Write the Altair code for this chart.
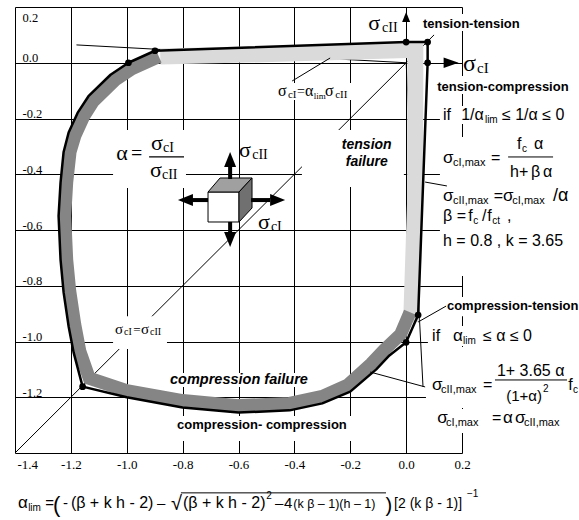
import altair as alt
import pandas as pd

# Biaxial failure envelope of concrete, stresses normalised by fc: (σcI/fc, σcII/fc)
envelope_x = [-0.899, 0.0, 0.077, 0.077, 0.043, 0.0, -0.06, -0.107, -0.2, -0.3,
              -0.417, -0.6, -0.8, -1.0, -1.158, -1.19, -1.208, -1.226, -1.237,
              -1.244, -1.237, -1.226, -1.208, -1.176, -1.137, -1.058, -0.994, -0.899]
envelope_y = [0.043, 0.074, 0.074, 0.0, -0.905, -1.003, -1.05, -1.10, -1.18, -1.222,
              -1.247, -1.255, -1.237, -1.2, -1.162, -1.04, -0.946, -0.824, -0.706,
              -0.55, -0.43, -0.32, -0.25, -0.18, -0.12, -0.043, 0.0, 0.043]

# compression-failure band (dark) and tension-failure band (light)
comp_band_x = [-0.885, -0.982, -1.041, -1.12, -1.154, -1.185, -1.203, -1.215, -1.222,
               -1.215, -1.204, -1.186, -1.168, -1.134, -1.0, -0.8, -0.6, -0.417, -0.3,
               -0.21, -0.125, -0.078, -0.02, 0.014]
comp_band_y = [0.022, -0.022, -0.061, -0.138, -0.192, -0.26, -0.32, -0.43, -0.55,
               -0.706, -0.82, -0.94, -1.035, -1.132, -1.176, -1.212, -1.23, -1.222,
               -1.197, -1.157, -1.08, -1.03, -0.975, -0.895]
tens_band_x = [-0.88, -0.42, 0.033, 0.032, 0.018]
tens_band_y = [0.022, 0.033, 0.047, -0.5, -0.93]

# marked points on the envelope
node_x = [-0.899, -0.994, 0.0, 0.077, 0.077, 0.043, 0.0, -1.158]
node_y = [0.043, 0.0, 0.074, 0.074, 0.0, -0.905, -1.003, -1.162]

axis_ticks = [-1.4, -1.2, -1.0, -0.8, -0.6, -0.4, -0.2, 0.0, 0.2]

# equal-stress diagonal and the two α_lim rays: (x, y, x2, y2)
ref_lines = [(-1.4, -1.4, 0.1, 0.1),
             (-1.18, 0.064, 0.0, 0.0),
             (0.0, 0.0, 0.0605, -1.163)]

LBL = "datum.value < 0 ? '-' + format(-datum.value, '.1f') : format(datum.value, '.1f')"
LBL_Y = "datum.value < -1.3 ? '' : (" + LBL + ")"
SERIF = "Liberation Serif"
SANS = "Liberation Sans"

XS = alt.Scale(domain=[-1.4, 0.2], nice=False, zero=False)
YS = alt.Scale(domain=[-1.4, 0.2], nice=False, zero=False)

x_axis = alt.Axis(values=axis_ticks, grid=True, gridColor="black", gridWidth=1,
                  gridOpacity=1, domain=False, ticks=False, tickSize=0,
                  labelPadding=5, labelFont=SERIF, labelFontSize=13,
                  labelColor="black", labelExpr=LBL, labelFlush=False,
                  labelOverlap=False, title=None,
                  labelAlign={"condition": {"test": "datum.value < -1.3", "value": "left"},
                              "value": "center"},
                  labelOffset={"condition": {"test": "datum.value < -1.3", "value": 2},
                               "value": 0})
y_axis = alt.Axis(values=axis_ticks, grid=True, gridColor="black", gridWidth=1,
                  gridOpacity=1, domain=False, ticks=False, tickSize=0,
                  labelPadding=-7, labelAlign="left", labelBaseline="alphabetic",
                  labelFont=SERIF, labelFontSize=12.5, labelColor="black",
                  labelExpr=LBL_Y, labelFlush=False, labelOverlap=False, title=None,
                  labelOffset={"condition": {"test": "datum.value > 0.15", "value": 14.5},
                               "value": -1})


def X(f="x"):
    return alt.X(f"{f}:Q", scale=XS, axis=x_axis, title=None)


def Y(f="y"):
    return alt.Y(f"{f}:Q", scale=YS, axis=y_axis, title=None)


def path_df(xs, ys):
    return pd.DataFrame({"x": xs, "y": ys, "i": range(len(xs))})


def rules(rows, color="black"):
    df = pd.DataFrame(rows, columns=["x", "y", "x2", "y2", "w"])
    return alt.Chart(df).mark_rule(color=color).encode(
        x=X(), y=Y(), x2="x2:Q", y2="y2:Q",
        strokeWidth=alt.StrokeWidth("w:Q", scale=None))


def texts(rows, font, weight="normal", style="normal", align="left"):
    df = pd.DataFrame(rows, columns=["x", "y", "t", "s"])
    return alt.Chart(df).mark_text(font=font, fontWeight=weight, fontStyle=style,
                                   align=align, baseline="alphabetic",
                                   color="black").encode(
        x=X(), y=Y(), text="t:N", size=alt.Size("s:Q", scale=None))


# thin reference lines
ref_layer = rules([r + (1,) for r in ref_lines])

# white backgrounds behind the annotations
boxes = pd.DataFrame([
    (-1.049, -0.788, -0.241, -0.449),
    (-0.373, -0.008, -0.241, -0.446),
    (-1.049, -0.856, -0.909, -1.027),
    (-0.466, -0.190, -0.0726, -0.1336),
    (-0.852, -0.337, -1.113, -1.163),
    (-0.827, -0.193, -1.267, -1.357),
    (0.050, 0.415, 0.175, 0.114),
    (0.100, 0.580, -0.0475, -0.112),
    (0.121, 0.594, -0.155, -0.220),
    (0.121, 0.615, -0.266, -0.765),
    (0.136, 0.615, -0.840, -0.909),
    (0.078, 0.479, -0.944, -1.016),
    (0.071, 0.615, -1.020, -1.239),
    (0.086, 0.615, -1.242, -1.328),
], columns=["x", "x2", "y", "y2"])
box_layer = alt.Chart(boxes).mark_rect(color="white").encode(
    x=X(), x2="x2:Q", y=Y(), y2="y2:Q")

tens_layer = alt.Chart(path_df(tens_band_x, tens_band_y)).mark_line(
    color="#dadada", strokeWidth=16, strokeJoin="miter", strokeCap="butt").encode(
    x=X(), y=Y(), order="i:Q")
comp_layer = alt.Chart(path_df(comp_band_x, comp_band_y)).mark_line(
    color="#858585", strokeWidth=13, strokeJoin="miter", strokeCap="butt").encode(
    x=X(), y=Y(), order="i:Q")
env_layer = alt.Chart(path_df(envelope_x, envelope_y)).mark_line(
    color="black", strokeWidth=2.5, strokeJoin="round").encode(
    x=X(), y=Y(), order="i:Q")

# leader lines, fraction bars and the root overline
leader_layer = rules([
    (-0.408, -0.0655, -0.272, 0.017, 1),
    (0.068, -0.428, 0.146, -0.442, 1),
    (0.143, -0.873, 0.043, -0.930, 1),
    (0.068, -1.163, -0.129, -1.1095, 1),
    (-0.920, -0.338, -0.795, -0.338, 1.2),
    (0.365, -0.338, 0.526, -0.338, 1),
    (0.318, -1.138, 0.576, -1.138, 1),
    (-0.806, -1.543, -0.072, -1.543, 1),
])

node_layer = alt.Chart(pd.DataFrame({"x": node_x, "y": node_y})).mark_circle(
    size=45, color="black", opacity=1).encode(x=X(), y=Y())

# stressed element with its loading arrows
front = pd.DataFrame([(-0.7091, -0.5982, -0.4637, -0.5713)],
                     columns=["x", "x2", "y", "y2"])
front_layer = alt.Chart(front).mark_rect(color="white", stroke="black",
                                         strokeWidth=1).encode(
    x=X(), x2="x2:Q", y=Y(), y2="y2:Q")
top_face = pd.DataFrame({"y": [-0.4134, -0.4637], "x": [-0.6661, -0.7091],
                         "x2": [-0.5516, -0.5982]})
top_layer = alt.Chart(top_face).mark_area(orient="horizontal", color="#a0a0a0",
                                          stroke="black", strokeWidth=1).encode(
    y=Y(), x=X(), x2="x2:Q")
side_face = pd.DataFrame({"x": [-0.5982, -0.5516], "y": [-0.4637, -0.4134],
                          "y2": [-0.5713, -0.5211]})
side_layer = alt.Chart(side_face).mark_area(orient="vertical", color="#707070",
                                            stroke="black", strokeWidth=1).encode(
    x=X(), y=Y(), y2="y2:Q")
shaft_layer = rules([
    (-0.630, -0.370, -0.630, -0.417, 4),
    (-0.630, -0.571, -0.630, -0.611, 4),
    (-0.766, -0.4926, -0.709, -0.4926, 4),
    (-0.555, -0.4926, -0.487, -0.4926, 4),
])
UP = "M0,-1L0.8,1L-0.8,1Z"
DOWN = "M0,1L0.8,-1L-0.8,-1Z"
LEFT = "M-1,0L1,-0.8L1,0.8Z"
RIGHT = "M1,0L-1,-0.8L-1,0.8Z"
heads = pd.DataFrame([
    (-0.630, -0.347, UP, 225),
    (-0.630, -0.634, DOWN, 225),
    (-0.790, -0.4926, LEFT, 225),
    (-0.460, -0.4926, RIGHT, 225),
    (0.0, 0.164, UP, 100),
    (0.161, 0.0, "M1,0L-1,-0.7L-1,0.7Z", 225),
], columns=["x", "y", "shape", "s"])
head_layer = alt.Chart(heads).mark_point(filled=True, color="black", opacity=1).encode(
    x=X(), y=Y(), shape=alt.Shape("shape:N", scale=None),
    size=alt.Size("s:Q", scale=None))

serif_text = texts([
    (-1.038, -0.349, "α", 22), (-0.985, -0.349, "=", 20),
    (-0.913, -0.313, "σ", 22), (-0.870, -0.320, "cI", 14),
    (-0.917, -0.410, "σ", 22), (-0.874, -0.417, "cII", 14),
    (-0.598, -0.338, "σ", 22), (-0.551, -0.345, "cII", 14),
    (-0.530, -0.596, "σ", 22), (-0.484, -0.604, "cI", 14),
    (-0.136, 0.1175, "σ", 22), (-0.086, 0.110, "cII", 14),
    (0.204, -0.0296, "σ", 24), (0.254, -0.0368, "cI", 15),
    (-0.459, -0.119, "σ", 16), (-0.423, -0.1265, "cI", 11),
    (-0.391, -0.119, "=", 14), (-0.362, -0.119, "α", 16),
    (-0.331, -0.130, "lim", 9), (-0.290, -0.119, "σ", 16),
    (-0.254, -0.1265, "cII", 11),
    (-1.042, -0.973, "σ", 15), (-1.010, -0.976, "cI", 10),
    (-0.977, -0.973, "=", 13), (-0.949, -0.973, "σ", 15),
    (-0.917, -0.976, "cII", 10),
], SERIF)

sans_text = texts([
    # tension-compression criterion
    (0.132, -0.205, "if", 16), (0.197, -0.205, "1/α", 16),
    (0.282, -0.216, "lim", 10), (0.343, -0.205, "≤ 1/α ≤ 0", 16),
    (0.132, -0.360, "σ", 17), (0.168, -0.370, "cI,max", 11),
    (0.304, -0.360, "=", 16),
    (0.397, -0.309, "f", 16), (0.415, -0.320, "c", 10), (0.458, -0.309, "α", 16),
    (0.372, -0.410, "h", 16), (0.404, -0.410, "+", 16), (0.447, -0.410, "β", 16),
    (0.490, -0.410, "α", 16),
    (0.132, -0.496, "σ", 17), (0.168, -0.507, "cII,max", 11),
    (0.314, -0.496, "=", 16), (0.347, -0.496, "σ", 17),
    (0.380, -0.507, "cI,max", 11), (0.526, -0.496, "/α", 18),
    (0.132, -0.568, "β", 16), (0.181, -0.568, "=", 16), (0.222, -0.568, "f", 16),
    (0.240, -0.578, "c", 10), (0.272, -0.568, "/", 16), (0.290, -0.568, "f", 16),
    (0.308, -0.578, "ct", 10), (0.361, -0.568, ",", 16),
    (0.132, -0.658, "h = 0.8 , k = 3.65", 16),
    # compression-tension criterion
    (0.093, -0.998, "if", 16), (0.168, -0.998, "α", 17),
    (0.204, -1.009, "lim", 10), (0.275, -0.998, "≤ α ≤ 0", 16),
    (0.093, -1.174, "σ", 17), (0.125, -1.185, "cII,max", 11),
    (0.275, -1.174, "=", 16), (0.325, -1.124, "1+ 3.65 α", 16),
    (0.358, -1.214, "(1+α)", 15), (0.490, -1.181, "2", 10),
    (0.580, -1.174, "f", 16), (0.597, -1.185, "c", 10),
    (0.111, -1.292, "σ", 17), (0.143, -1.303, "cI,max", 11),
    (0.307, -1.292, "=", 16), (0.347, -1.292, "α", 17), (0.390, -1.292, "σ", 17),
    (0.422, -1.303, "cII,max", 11),
    # limit ratio
    (-1.389, -1.597, "α", 17), (-1.353, -1.608, "lim", 10),
    (-1.292, -1.597, "=", 15), (-1.264, -1.612, "(", 22),
    (-1.228, -1.597, "-", 15), (-1.200, -1.597, "(β + k h - 2)", 16),
    (-0.892, -1.597, "–", 15), (-0.842, -1.606, "√", 20),
    (-0.799, -1.597, "(β + k h - 2)", 16), (-0.501, -1.565, "2", 10),
    (-0.469, -1.597, "–", 15), (-0.437, -1.597, "4", 15),
    (-0.404, -1.597, "(k β – 1)(h – 1)", 12.5),
    (-0.074, -1.612, ")", 20), (-0.043, -1.597, "[2 (k β - 1)]", 14),
    (0.218, -1.558, "−1", 10),
], SANS)

bold_text = texts([
    (0.060, 0.125, "tension-tension", 13),
    (0.111, -0.101, "tension-compression", 13),
    (0.146, -0.887, "compression-tension", 13),
    (-0.820, -1.314, "compression- compression", 13),
], SANS, weight="bold")
region_text = texts([
    (-0.141, -0.309, "tension", 14),
    (-0.141, -0.370, "failure", 14),
], SANS, weight="bold", style="italic", align="center")
comp_text = texts([
    (-0.845, -1.153, "compression failure", 14.5),
], SANS, weight="bold", style="italic")

chart = alt.layer(
    ref_layer, box_layer, tens_layer, comp_layer, env_layer, leader_layer,
    node_layer, front_layer, top_layer, side_layer, shaft_layer, head_layer,
    serif_text, sans_text, bold_text, region_text, comp_text,
).properties(
    width=447, height=446,
    padding={"left": 15, "top": 7, "right": 117, "bottom": 67},
    autosize=alt.AutoSizeParams(type="none"),
    background="white",
).configure_view(strokeWidth=0)

chart.save("out.html", embed_options={"renderer": "svg", "actions": False})
